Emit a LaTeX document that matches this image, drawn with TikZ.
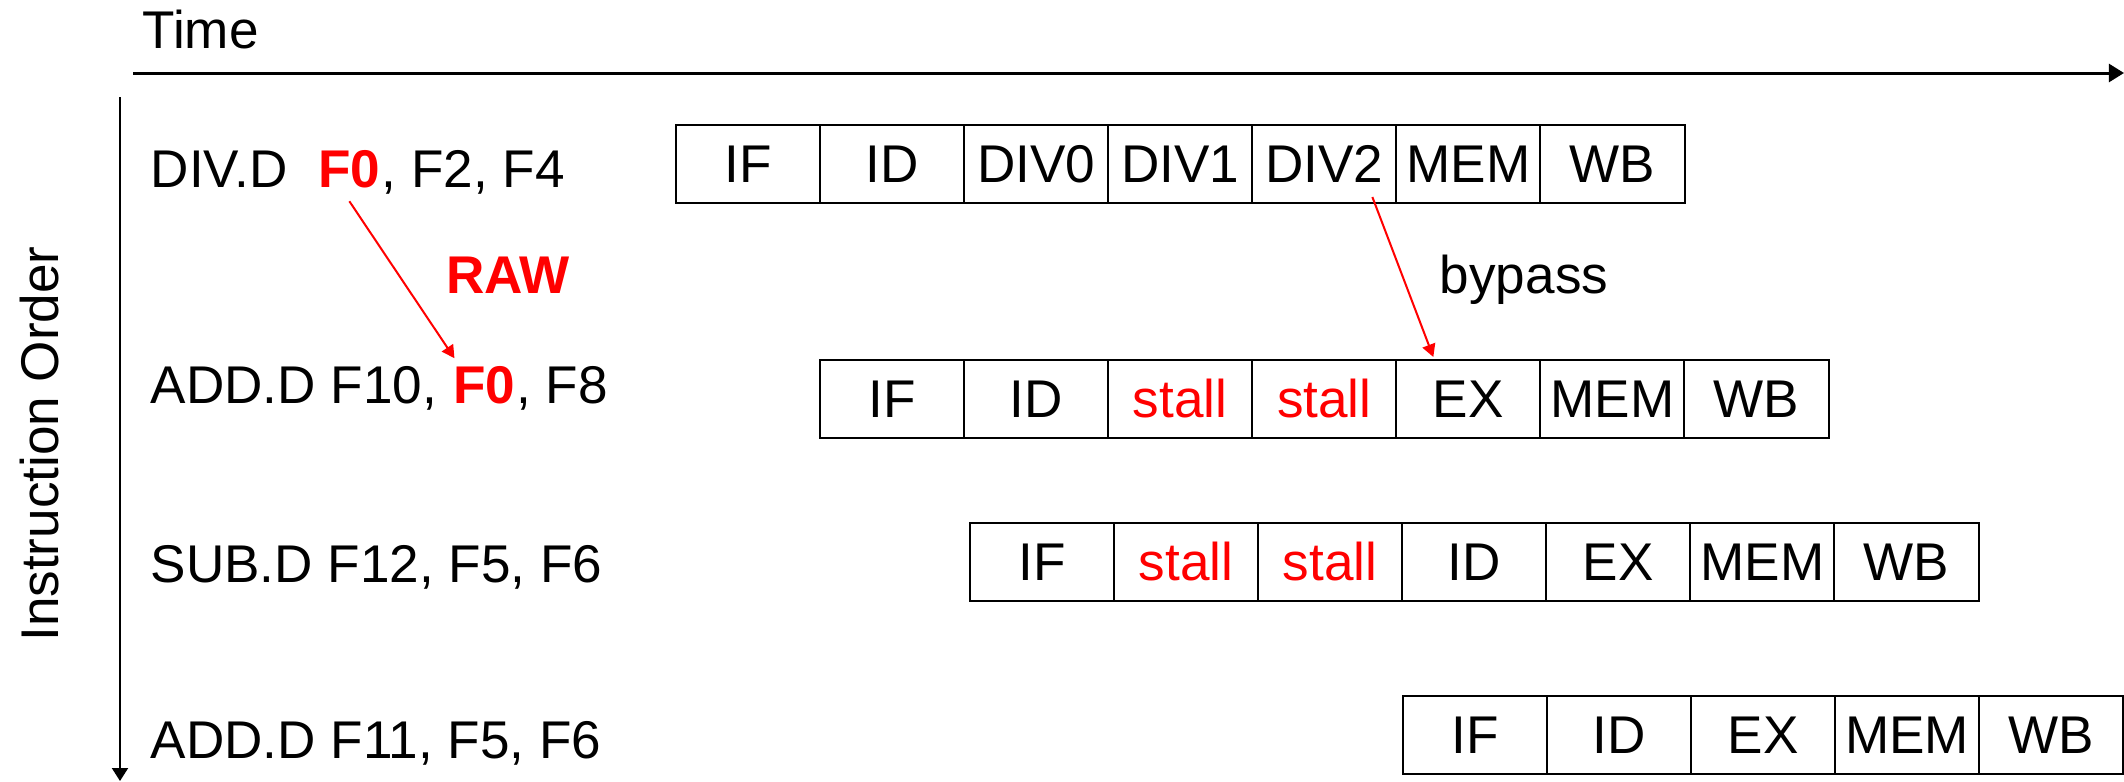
\documentclass[tikz,border=0pt]{standalone}
\usepackage{fontspec}
\setmainfont{Liberation Sans}
\usepackage{tikz}
\usetikzlibrary{arrows.meta, positioning}
\definecolor{hazard}{RGB}{255,0,0}
\tikzset{
    >={Triangle[length=3.6pt, width=3.8pt]}, % Default arrow tip
    every node/.style={font=\fontsize{15.1}{18}\selectfont},
    stage/.style={draw, line width=0.57pt, minimum width=\boxw, minimum height=\boxh, inner sep=0pt, outer sep=0pt},
    stall/.style={stage, text=hazard},
    instr/.style={inner sep=0pt, anchor=base west},
    raw/.style={inner sep=0pt, text=hazard, font=\fontsize{15.1}{18}\selectfont\bfseries},
    hazardarrow/.style={draw=hazard, line width=0.57pt, ->}
}
\def\boxw{1.44cm}
\def\boxh{0.78cm}

\begin{document}
\begin{tikzpicture}[x=0.01cm, y=-0.01cm, node distance=0pt]
    \useasboundingbox (0,0) rectangle (2124,781);

    % axes
    \draw
        node [instr] (time) at (142,48) {Time}
        node [rotate=90] (order) at (40,444) {Instruction Order}
        coordinate (t0) at (133,73)
        coordinate (t1) at (2124,73)
        coordinate (o0) at (120,97)
        coordinate (o1) at (120,781)
    ;
    \draw
        [line width=0.85pt, -{Triangle[length=4.3pt, width=5.1pt]}]
        (t0) -- (t1)
    ;
    \draw
        [line width=0.57pt, -{Triangle[length=3.7pt, width=4.55pt]}]
        (o0) -- (o1)
    ;

    % instructions
    \node [instr] (ia) at (150,187) {DIV.D};
    \node [raw, base right=0.295cm of ia] (srcF0) {F0};
    \node [instr, base right=of srcF0] (ia2) {, F2, F4};
    \node [instr] (ib) at (150,403) {ADD.D F10,};
    \node [raw, base right=0.148cm of ib] (dstF0) {F0};
    \node [instr, base right=of dstF0] (ib2) {, F8};
    \node [instr] (ic) at (150,582) {SUB.D F12, F5, F6};
    \node [instr] (id) at (150,758) {ADD.D F11, F5, F6};

    % pipeline stages
    \draw
        node [stage] (a1) at (748,164) {IF}
        node [stage, right=of a1] (a2) {ID}
        node [stage, right=of a2] (a3) {DIV0}
        node [stage, right=of a3] (a4) {DIV1}
        node [stage, right=of a4] (a5) {DIV2}
        node [stage, right=of a5] (a6) {MEM}
        node [stage, right=of a6] (a7) {WB}
    ;
    \draw
        node [stage] (b1) at (892,399) {IF}
        node [stage, right=of b1] (b2) {ID}
        node [stall, right=of b2] (b3) {stall}
        node [stall, right=of b3] (b4) {stall}
        node [stage, right=of b4] (b5) {EX}
        node [stage, right=of b5] (b6) {MEM}
        node [stage, right=of b6] (b7) {WB}
    ;
    \draw
        node [stage] (c1) at (1042,562) {IF}
        node [stall, right=of c1] (c2) {stall}
        node [stall, right=of c2] (c3) {stall}
        node [stage, right=of c3] (c4) {ID}
        node [stage, right=of c4] (c5) {EX}
        node [stage, right=of c5] (c6) {MEM}
        node [stage, right=of c6] (c7) {WB}
    ;
    \draw
        node [stage] (d1) at (1475,735) {IF}
        node [stage, right=of d1] (d2) {ID}
        node [stage, right=of d2] (d3) {EX}
        node [stage, right=of d3] (d4) {MEM}
        node [stage, right=of d4] (d5) {WB}
    ;

    % dependences
    \node [raw] (rawlbl) at (508,275) {RAW};
    \node (bypass) at (1524,280) {bypass};
    \draw
        [hazardarrow]
        ([yshift=-0.13cm]srcF0.south) -- ([xshift=0.02cm, yshift=0.07cm]dstF0.north west)
    ;
    \draw
        [hazardarrow]
        ([xshift=-0.24cm, yshift=0.06cm]a5.south east) -- ([xshift=0.37cm, yshift=0.03cm]b5.north west)
    ;
\end{tikzpicture}
\end{document}
